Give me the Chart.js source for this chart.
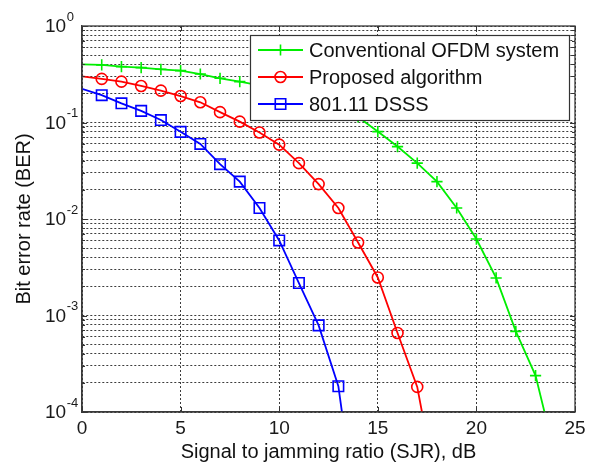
<!DOCTYPE html>
<html>
<head>
<meta charset="utf-8">
<script src="https://cdn.jsdelivr.net/npm/chart.js@4.4.0/dist/chart.umd.min.js"></script>
<style>
  html, body { margin: 0; padding: 0; background: #fff; }
  #wrap { width: 597px; height: 465px; }
</style>
</head>
<body>
<div id="wrap"><canvas id="berChart" width="597" height="465"></canvas></div>
<script>
// SJR in dB, one value per point
const sjrDb = [0, 1, 2, 3, 4, 5, 6, 7, 8, 9, 10, 11, 12, 13, 14, 15, 16, 17, 18, 19, 20, 21, 22, 23, 24];

// BER (last point of each series sits below 1e-4, the line runs off the bottom)
const ofdmBer = [0.40, 0.395, 0.379, 0.370, 0.356, 0.345, 0.318, 0.287, 0.265, 0.242, 0.216, 0.189, 0.160, 0.136,
  0.114, 0.0805, 0.0563, 0.0379, 0.0244, 0.0130, 0.0062, 0.00245, 0.000684, 0.000238, 0.000035];
const proposedBer = [0.30, 0.283, 0.265, 0.239, 0.214, 0.188, 0.162, 0.128, 0.102, 0.0787, 0.059, 0.0379, 0.0230,
  0.0130, 0.00571, 0.00248, 0.000659, 0.000182, 0.000015, null, null, null, null, null, null];
const dsssBer = [0.223, 0.192, 0.158, 0.132, 0.106, 0.080, 0.060, 0.037, 0.0244, 0.013, 0.0060, 0.00217, 0.00079,
  0.000185, 0.0000062, null, null, null, null, null, null, null, null, null, null];

const seriesLabels = ['Conventional OFDM system', 'Proposed algorithm', '801.11 DSSS'];
const seriesColors = ['#00ee00', '#ff0000', '#0000ff'];
const seriesMarkers = ['cross', 'circle', 'rect'];

const xTicks = [0, 5, 10, 15, 20, 25];
const yDecades = [-4, -3, -2, -1, 0];

const FONT = "'Liberation Sans', Arial, Helvetica, sans-serif";
Chart.defaults.font.family = FONT;

// every 1..9 x 10^k for the log grid
const yGridTicks = [];
yDecades.forEach(d => {
  if (d === 0) { yGridTicks.push(1); return; }
  for (let m = 1; m <= 9; m++) yGridTicks.push(m * Math.pow(10, d));
});

function toPoints(vals) {
  const pts = [];
  vals.forEach((v, i) => { if (v != null) pts.push({ x: sjrDb[i], y: v }); });
  return pts;
}

function markerRadius(style) {
  if (style === 'rect') return 7.4;
  if (style === 'cross') return 5.6;
  return 5.5;
}

function drawMarker(ctx, style, x, y, color) {
  const r = markerRadius(style);
  ctx.save();
  ctx.strokeStyle = color;
  ctx.lineWidth = 1.6;
  ctx.beginPath();
  if (style === 'cross') {
    ctx.moveTo(x - r, y); ctx.lineTo(x + r, y);
    ctx.moveTo(x, y - r); ctx.lineTo(x, y + r);
  } else if (style === 'circle') {
    ctx.arc(x, y, r, 0, Math.PI * 2);
  } else {
    const s = r * Math.SQRT1_2;
    ctx.rect(x - s, y - s, 2 * s, 2 * s);
  }
  ctx.stroke();
  ctx.restore();
}

const datasets = [ofdmBer, proposedBer, dsssBer].map((vals, i) => ({
  label: seriesLabels[i],
  data: toPoints(vals),
  borderColor: seriesColors[i],
  backgroundColor: 'rgba(0,0,0,0)',
  borderWidth: 1.8,
  tension: 0,
  pointStyle: seriesMarkers[i],
  pointRadius: c => (c.raw && c.raw.x === 0 ? 0 : markerRadius(seriesMarkers[i])),
  pointBorderWidth: 1.6,
  pointBorderColor: seriesColors[i],
  pointBackgroundColor: 'rgba(0,0,0,0)',
  clip: 0
}));

// y tick labels (10 with superscript exponent), box, inward ticks and legend
const matlabDecor = {
  id: 'matlabDecor',
  afterDraw(chart) {
    const ctx = chart.ctx;
    const a = chart.chartArea;
    const xs = chart.scales.x, ys = chart.scales.y;

    ctx.save();
    // y tick labels
    ctx.fillStyle = '#1a1a1a';
    yDecades.forEach(d => {
      const py = ys.getPixelForValue(Math.pow(10, d));
      ctx.font = '19px ' + FONT;
      ctx.textAlign = 'left';
      ctx.textBaseline = 'middle';
      ctx.fillText('10', 45, py + 1);
      const w = ctx.measureText('10').width;
      ctx.font = '13px ' + FONT;
      ctx.fillText(String(d), 45 + w + 0.5, py - 9);
    });

    // inward tick marks
    ctx.strokeStyle = '#333';
    ctx.lineWidth = 1;
    ctx.beginPath();
    xTicks.forEach(v => {
      const px = Math.round(xs.getPixelForValue(v)) + 0.5;
      ctx.moveTo(px, a.bottom); ctx.lineTo(px, a.bottom - 5);
      ctx.moveTo(px, a.top); ctx.lineTo(px, a.top + 5);
    });
    yGridTicks.forEach(v => {
      const py = Math.round(ys.getPixelForValue(v)) + 0.5;
      const len = Math.abs(Math.log10(v) - Math.round(Math.log10(v))) < 1e-9 ? 5 : 3;
      ctx.moveTo(a.left, py); ctx.lineTo(a.left + len, py);
      ctx.moveTo(a.right, py); ctx.lineTo(a.right - len, py);
    });
    ctx.stroke();

    // axes box
    ctx.strokeStyle = '#3a3a3a';
    ctx.lineWidth = 1.3;
    ctx.strokeRect(a.left, a.top, a.right - a.left, a.bottom - a.top);

    // legend
    const lx = 250, ly = 35, lw = 319, lh = 85;
    ctx.fillStyle = '#fff';
    ctx.fillRect(lx, ly, lw, lh);
    ctx.strokeStyle = '#333';
    ctx.lineWidth = 1.2;
    ctx.strokeRect(lx + 0.5, ly + 0.5, lw, lh);
    seriesLabels.forEach((label, i) => {
      const ry = 50 + i * 27;
      ctx.strokeStyle = seriesColors[i];
      ctx.lineWidth = 1.8;
      ctx.beginPath();
      ctx.moveTo(258, ry); ctx.lineTo(303, ry);
      ctx.stroke();
      drawMarker(ctx, seriesMarkers[i], 280.5, ry, seriesColors[i]);
      ctx.fillStyle = '#111';
      ctx.font = '20px ' + FONT;
      ctx.textAlign = 'left';
      ctx.textBaseline = 'middle';
      ctx.fillText(label, 309, ry + 1);
    });
    ctx.restore();
  }
};

const ctx = document.getElementById('berChart').getContext('2d');

new Chart(ctx, {
  type: 'line',
  data: { datasets: datasets },
  options: {
    responsive: false,
    animation: false,
    events: [],
    layout: { padding: { top: 26, right: 22, left: 0, bottom: 0 } },
    plugins: {
      legend: { display: false },
      tooltip: { enabled: false }
    },
    scales: {
      x: {
        type: 'linear',
        min: 0,
        max: 25,
        afterBuildTicks: s => { s.ticks = xTicks.map(v => ({ value: v })); },
        afterFit: s => { s.height = 53; },
        ticks: { font: { size: 19 }, color: '#1a1a1a', padding: 5, maxRotation: 0 },
        grid: { color: '#3c3c3c', lineWidth: 1, drawTicks: false },
        border: { display: true, color: '#3a3a3a', width: 1.3, dash: [2, 2] },
        title: {
          display: true,
          text: 'Signal to jamming ratio (SJR), dB',
          font: { size: 20 },
          color: '#111',
          padding: { top: 0, bottom: 1 }
        }
      },
      y: {
        type: 'logarithmic',
        min: 1e-4,
        max: 1,
        afterBuildTicks: s => { s.ticks = yGridTicks.map(v => ({ value: v })); },
        afterFit: s => { s.width = 82; },
        ticks: { display: false },
        grid: { color: '#3c3c3c', lineWidth: 1, drawTicks: false },
        border: { display: true, color: '#3a3a3a', width: 1.3, dash: [2, 2] },
        title: {
          display: true,
          text: 'Bit error rate (BER)',
          font: { size: 20 },
          color: '#111',
          padding: { top: 12, bottom: 0 }
        }
      }
    }
  },
  plugins: [matlabDecor]
});
</script>
</body>
</html>
